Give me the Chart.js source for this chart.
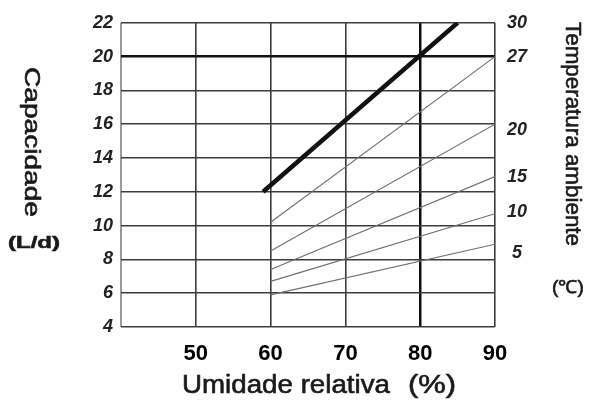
<!DOCTYPE html>
<html>
<head>
  <title>Capacidade x Umidade relativa</title>
  <script src="https://cdn.jsdelivr.net/npm/chart.js"></script>
  <style>body { margin: 0; background: #fff; }</style>
</head>
<body>
  <canvas id="capChart" width="593" height="404"></canvas>

  <script>
    // umidade relativa (%) nas pontas de cada curva
    const humidity = [60, 90];
    const humidity30 = [59, 85];

    // capacidade (L/d) por temperatura ambiente
    const cap30 = [12, 22];
    const cap27 = [10.2, 20.0];
    const cap20 = [8.5, 16.0];
    const cap15 = [7.4, 12.9];
    const cap10 = [6.7, 10.7];
    const cap5 = [5.9, 8.9];

    // eixo direito: rotulos de temperatura e onde ficam na escala de capacidade
    const tempLabels = ['30', '27', '20', '15', '10', '5'];
    const tempLabelAt = [22, 20, 15.65, 12.9, 10.8, 8.4];

    const toPoints = (xs, ys) => xs.map((x, i) => ({ x: x, y: ys[i] }));

    const thin = (ys) => ({
      data: toPoints(humidity, ys),
      borderColor: '#6e6e6e',
      borderWidth: 1.1,
      pointRadius: 0
    });

    // texto esticado/rotacionado, para os titulos dos eixos
    const drawText = (ctx, text, cx, cy, width, font, angle) => {
      ctx.save();
      ctx.translate(cx, cy);
      ctx.rotate(angle);
      ctx.font = font;
      const w = ctx.measureText(text).width;
      ctx.scale(width / w, 1);
      ctx.textAlign = 'center';
      ctx.textBaseline = 'middle';
      ctx.fillStyle = '#1a1a1a';
      ctx.strokeStyle = '#1a1a1a';
      ctx.lineWidth = 0.6;
      ctx.fillText(text, 0, 0);
      ctx.strokeText(text, 0, 0);
      ctx.restore();
    };

    const titles = {
      id: 'titles',
      afterDraw(chart) {
        const ctx = chart.ctx;
        const f = 'Liberation Sans, Arial, sans-serif';
        drawText(ctx, 'Capacidade', 31, 142, 150, '22px ' + f, Math.PI / 2);
        drawText(ctx, '(L/d)', 34, 243, 52, 'bold 17px ' + f, 0);
        drawText(ctx, 'Temperatura ambiente', 572, 134, 224, '22px ' + f, Math.PI / 2);
        drawText(ctx, '(\u2103)', 568, 288, 32, '18px ' + f, 0);
        drawText(ctx, 'Umidade relativa', 286, 386, 208, '25px ' + f, 0);
        drawText(ctx, '(%)', 432, 386, 48, '25px ' + f, 0);
      }
    };

    const tickFont = { family: 'Liberation Sans, Arial, sans-serif', size: 18, style: 'italic', weight: 'bold' };

    new Chart(document.getElementById('capChart').getContext('2d'), {
      type: 'line',
      data: {
        datasets: [
          {
            data: toPoints(humidity30, cap30),
            borderColor: '#111',
            borderWidth: 4.5,
            pointRadius: 0
          },
          thin(cap27),
          thin(cap20),
          thin(cap15),
          thin(cap10),
          thin(cap5)
        ]
      },
      options: {
        responsive: false,
        animation: false,
        layout: { padding: { left: 81, right: 44, top: 19, bottom: 27 } },
        plugins: {
          legend: { display: false },
          tooltip: { enabled: false }
        },
        scales: {
          x: {
            type: 'linear',
            min: 40,
            max: 90,
            afterFit: (scale) => { scale.height = 50; },
            ticks: {
              stepSize: 10,
              padding: 14,
              color: '#000',
              font: { family: 'Liberation Sans, Arial, sans-serif', size: 22, weight: 'bold' },
              callback: (v) => (v === 40 ? '' : v)
            },
            grid: {
              drawTicks: false,
              color: (c) => (c.tick.value === 80 ? '#111' : c.tick.value === 40 ? '#9a9a9a' : '#3c3c3c'),
              lineWidth: (c) => (c.tick.value === 80 ? 2.5 : c.tick.value === 40 ? 2 : 1.6)
            },
            border: { display: false }
          },
          y: {
            min: 4,
            max: 22,
            afterFit: (scale) => { scale.width = 40; },
            ticks: {
              stepSize: 2,
              padding: 8,
              color: '#222',
              font: tickFont
            },
            grid: {
              drawTicks: false,
              color: (c) => (c.tick.value === 20 ? '#111' : '#3c3c3c'),
              lineWidth: (c) => (c.tick.value === 20 ? 2.5 : 1.6)
            },
            border: { display: false }
          },
          temp: {
            position: 'right',
            min: 4,
            max: 22,
            afterFit: (scale) => { scale.width = 54; },
            afterBuildTicks: (scale) => {
              scale.ticks = tempLabelAt.map((v) => ({ value: v }));
            },
            ticks: {
              autoSkip: false,
              padding: 12,
              crossAlign: 'center',
              color: '#222',
              font: tickFont,
              callback: (v, i) => tempLabels[i]
            },
            grid: { display: false, drawTicks: false },
            border: { display: false }
          }
        }
      },
      plugins: [titles]
    });
  </script>
</body>
</html>
